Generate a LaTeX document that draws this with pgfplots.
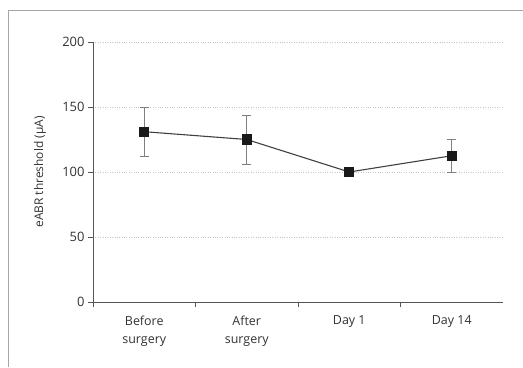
\documentclass[border=0pt]{standalone}
\usepackage{pgfplots}
\pgfplotsset{compat=1.18}
\usepackage{fontspec}
\setmainfont{Open Sans}
\definecolor{txt}{HTML}{333333}
\definecolor{ax}{HTML}{555555}
\begin{document}
\begin{tikzpicture}[x=1bp,y=1bp]
\path[use as bounding box] (0,0) rectangle (523,367);
\draw[color=gray!70, line width=0.8bp] (8,0) -- (8,357) -- (523,357);
\begin{axis}[
  at={(93bp,65bp)}, anchor=origin,
  width=410bp, height=260bp, scale only axis,
  xmin=0, xmax=4, ymin=0, ymax=200,
  axis x line=bottom, axis y line=left,
  axis line style={-, color=ax, line width=0.8bp},
  xtick={0,1,2,3}, xticklabels={},
  extra x ticks={0.5,1.5,2.5,3.5},
  extra x tick labels={{Before\\surgery},{After\\surgery},{Day 1},{Day 14}},
  extra x tick style={major tick length=0pt, tick label style={align=center, font=\fontsize{12.5}{19}\selectfont, text=txt, yshift=-10bp}},
  ytick={0,50,100,150,200},
  tick align=outside, major tick length=5bp,
  tick style={color=ax, line width=0.6bp},
  yticklabel style={font=\fontsize{13}{15}\selectfont, text=txt},
  /pgf/number format/assume math mode=true,
  ymajorgrids, grid style={dotted, color=gray!45, line width=0.8bp},
  ylabel={eABR threshold (µA)},
  ylabel style={font=\fontsize{12}{14}\selectfont, text=txt, at={(-53bp,0.5)}, anchor=center},
  clip=false,
]
\addplot[color=black!75, line width=1.1bp, mark=square*, mark size=4.6bp, mark options={fill=black!90, draw=black!90, solid},
  error bars/.cd, y dir=both, y explicit,
  error bar style={color=gray, line width=0.6bp},
  error mark options={rotate=90, mark size=4.5bp, color=gray, line width=0.6bp}]
coordinates {
  (0.5,131) +- (0,19)
  (1.5,125) +- (0,19)
  (2.5,100) +- (0,0)
  (3.5,112.5) +- (0,12.5)
};
\end{axis}
\end{tikzpicture}
\end{document}
